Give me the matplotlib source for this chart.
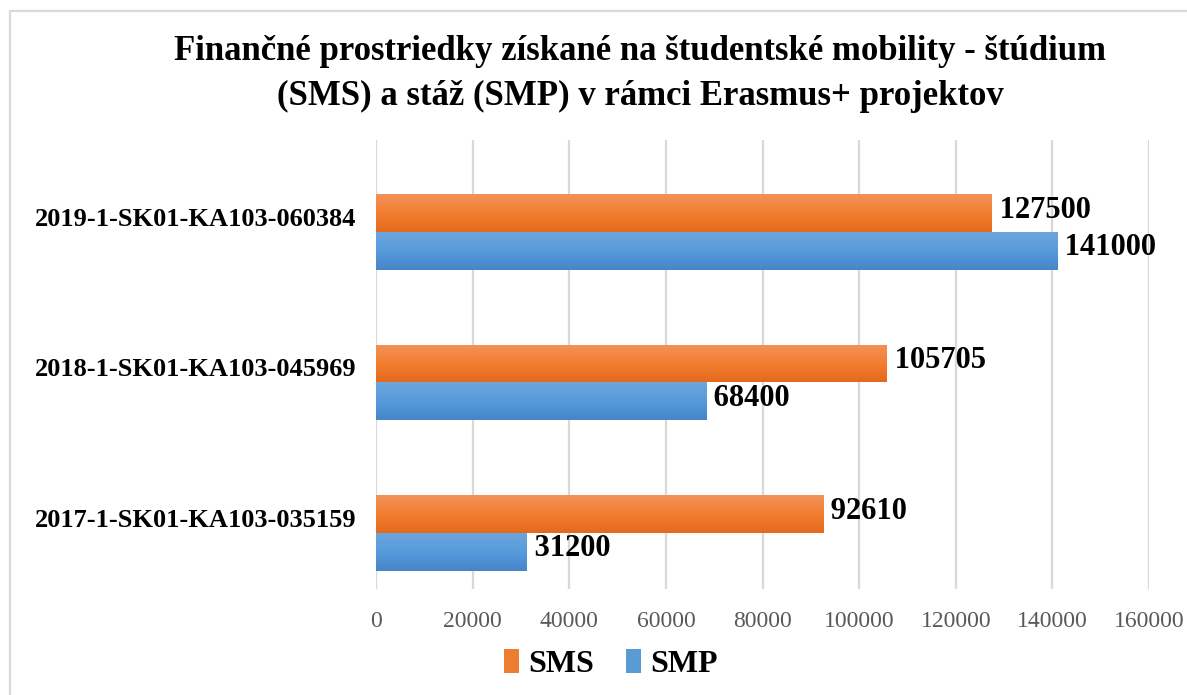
import matplotlib
matplotlib.use("Agg")
import matplotlib.pyplot as plt
import matplotlib.transforms as mtransforms
from matplotlib.patches import Rectangle
from matplotlib.colors import LinearSegmentedColormap
import numpy as np

categories = ["2017-1-SK01-KA103-035159", "2018-1-SK01-KA103-045969", "2019-1-SK01-KA103-060384"]
sms = [92610, 105705, 127500]
smp = [31200, 68400, 141000]
xticks = [0, 20000, 40000, 60000, 80000, 100000, 120000, 140000, 160000]
title = "Finančné prostriedky získané na študentské mobility - štúdium\n(SMS) a stáž (SMP) v rámci Erasmus+ projektov"

plt.rcParams['font.family'] = ['Liberation Serif', 'DejaVu Serif']

W, H = 1187, 695
fig = plt.figure(figsize=(W / 100, H / 100), dpi=100)
ax = fig.add_axes([376 / W, 1 - 589 / H, (1149 - 376) / W, (589 - 140) / H])

y = np.arange(len(categories))
bh = 0.25
orange_cmap = LinearSegmentedColormap.from_list("o", ["#E4691C", "#F27E2F", "#F3925A"])
blue_cmap = LinearSegmentedColormap.from_list("b", ["#4585C8", "#579BDD", "#6CA6DC"])

bars_sms = ax.barh(y + bh / 2, sms, height=bh, color="#ED7D31", zorder=2, label="SMS")
bars_smp = ax.barh(y - bh / 2, smp, height=bh, color="#5B9BD5", zorder=2, label="SMP")

grad = np.linspace(0, 1, 64).reshape(-1, 1)
lbl_off = mtransforms.ScaledTranslation(0, 3 / 100, fig.dpi_scale_trans)
for bars, cmap in ((bars_sms, orange_cmap), (bars_smp, blue_cmap)):
    for b in bars:
        x0, y0, w, h = b.get_x(), b.get_y(), b.get_width(), b.get_height()
        im = ax.imshow(grad, cmap=cmap, aspect="auto", origin="lower",
                       extent=(x0, x0 + w, y0, y0 + h), zorder=3)
        im.set_clip_path(b)
        ax.text(x0 + w, y0 + h / 2, f" {int(w)}", va="center", ha="left",
                fontsize=22, fontweight="bold", color="black", zorder=4,
                transform=ax.transData + lbl_off)

ax.set_xlim(0, 160000)
ax.set_ylim(-0.372, 2.611)
ax.set_xticks(xticks)
ax.set_xticklabels([str(t) for t in xticks], fontsize=17, color="#595959")
ax.set_yticks(y)
ax.set_yticklabels(categories, fontsize=19, fontweight="bold", color="black")
ax.tick_params(axis="x", length=0, pad=16)
ax.tick_params(axis="y", length=0, pad=14)
off = mtransforms.ScaledTranslation(0, 15 / 100, fig.dpi_scale_trans)
for lbl in ax.get_yticklabels():
    lbl.set_transform(lbl.get_transform() + off)

ax.grid(axis="x", color="#D9D9D9", linewidth=1.6, zorder=0)
ax.set_axisbelow(True)
for s in ax.spines.values():
    s.set_visible(False)

fig.text(640 / W, 1 - 74 / H, title, ha="center", va="center", fontsize=25,
         fontweight="bold", linespacing=1.45)

leg = fig.legend(handles=[bars_sms, bars_smp], labels=["SMS", "SMP"],
                 loc="center", bbox_to_anchor=(611 / W, 1 - 664 / H), ncol=2,
                 frameon=False, prop={"size": 23, "weight": "bold"},
                 handlelength=0.45, handleheight=0.8, handletextpad=0.3, columnspacing=1.0)

fig.patches.append(Rectangle((10 / W, -0.1), 1.2, 1 - 11 / H + 0.1, transform=fig.transFigure,
                             fill=False, edgecolor="#D9D9D9", linewidth=1.6, zorder=10))

fig.savefig("out.png", dpi=100)
